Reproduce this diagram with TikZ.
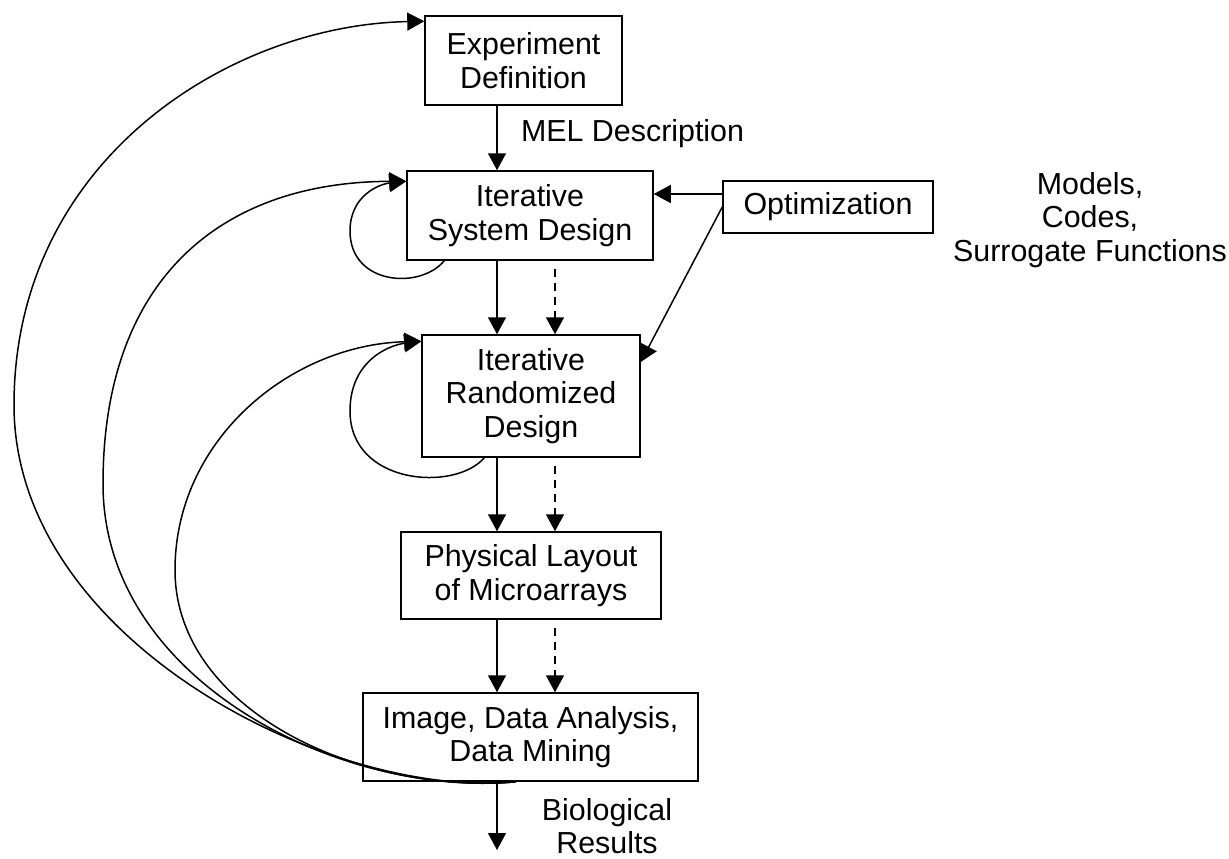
\documentclass[tikz,border=0pt]{standalone}
\usepackage{fontspec}
\setmainfont{Liberation Sans}
\usetikzlibrary{arrows.meta}

\begin{document}
\begin{tikzpicture}[x=0.5pt,y=-0.5pt,
  font=\fontsize{15.2}{16.8}\selectfont,
  box/.style={draw,line width=0.75pt,align=center,inner sep=0pt},
  flow/.style={line width=0.75pt,-{Triangle[length=8.5pt,width=9pt]}},
  dflow/.style={flow,dash pattern=on 4pt off 3pt,shorten <=4pt}]

\useasboundingbox (0,0) rectangle (1229,858);

\coordinate (solid) at (497,0);
\coordinate (dash) at (555,0);

\node [box,minimum width=98.5pt,minimum height=44.5pt] (expdef) at (523.5,60.5) {Experiment\\Definition};
\node [box,minimum width=123pt,minimum height=44.5pt] (sysdes) at (530,215.5) {Iterative\\System Design};
\node [box,minimum width=109pt,minimum height=61pt] (randdes) at (531,396) {Iterative\\Randomized\\Design};
\node [box,minimum width=130pt,minimum height=43.5pt] (layout) at (531,575.5) {Physical Layout\\of Microarrays};
\node [box,minimum width=167.5pt,minimum height=44pt] (analysis) at (530.5,737) {Image, Data Analysis,\\Data Mining};
\node [box,minimum width=105pt,minimum height=26pt] (optim) at (828,207) {Optimization};

\node [align=center] (models) at (1090,220) {Models,\\Codes,\\Surrogate Functions};
\node [anchor=west] (mel) at (514,134) {MEL Description};
\node [align=center] (bio) at (607,826) {Biological\\Results};

\coordinate (results) at (497,850);
\coordinate (arcstart) at ([xshift=-7.5pt]analysis.south);
\coordinate (expin) at ([yshift=-3pt]expdef.north west);
\coordinate (sysin) at ([yshift=-5.5pt]sysdes.north west);
\coordinate (randin) at ([yshift=-3.5pt]randdes.north west);
\coordinate (sysloop) at ([xshift=19pt]sysdes.south west);
\coordinate (randloop) at ([xshift=31.5pt]randdes.south west);

\draw [flow] (expdef.south -| solid) -- (sysdes.north -| solid);
\draw [flow] (sysdes.south -| solid) -- (randdes.north -| solid);
\draw [dflow] (sysdes.south -| dash) -- (randdes.north -| dash);
\draw [flow] (randdes.south -| solid) -- (layout.north -| solid);
\draw [dflow] (randdes.south -| dash) -- (layout.north -| dash);
\draw [flow] (layout.south -| solid) -- (analysis.north -| solid);
\draw [dflow] (layout.south -| dash) -- (analysis.north -| dash);
\draw [flow] (analysis.south -| results) -- (results);

\draw [flow] ([yshift=6.5pt]optim.west) -- ([yshift=6.5pt]optim.west -| sysdes.east);
\draw [flow] (optim.west) -- ([yshift=17pt]randdes.east);

\draw [flow] (sysloop) .. controls (420,290) and (350,285) .. (350,231) .. controls (350,195) and (380,184) .. (sysin);
\draw [flow] (randloop) .. controls (455,492) and (350,485) .. (350,411) .. controls (350,360) and (390,345) .. (randin);

\draw [flow] (arcstart) .. controls (330,800) and (14,640) .. (14,405) .. controls (14,160) and (230,25) .. (expin);
\draw [flow] (arcstart) .. controls (340,798) and (103,680) .. (103,484) .. controls (103,280) and (220,182) .. (sysin);
\draw [flow] (arcstart) .. controls (360,795) and (175,710) .. (175,570) .. controls (175,440) and (290,345) .. (randin);

\end{tikzpicture}
\end{document}
